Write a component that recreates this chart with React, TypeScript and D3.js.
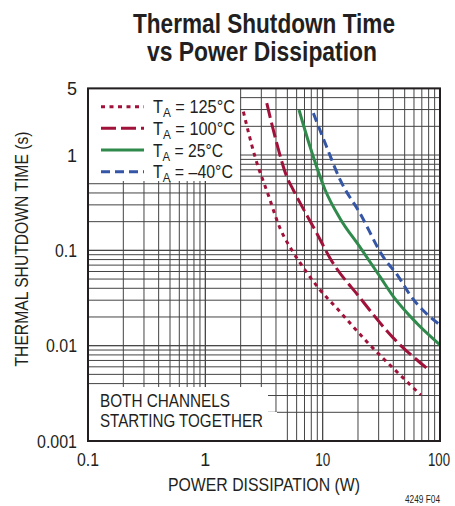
import React from "react";
import * as d3 from "d3";

const xTickValues = [0.1, 1, 10, 100];
const xTickLabels = ["0.1", "1", "10", "100"];
const yTickValues = [0.001, 0.01, 0.1, 1, 5];
const yTickLabels = ["0.001", "0.01", "0.1", "1", "5"];

const p125 = [2.11, 2.65, 3.44, 4.33, 5.45, 7.08, 9.5, 13.2, 23.8, 45.7, 68.6];
const t125 = [2.85, 0.96, 0.381, 0.171, 0.101, 0.0622, 0.0384, 0.0247, 0.011, 0.00493, 0.00304];
const p100 = [3.34, 4.06, 4.94, 5.62, 8.91, 11.56, 20.8, 40.1, 77.2];
const t100 = [3.5, 1.33, 0.593, 0.43, 0.151, 0.0827, 0.0318, 0.012, 0.0058];
const p25 = [6.29, 7.81, 10.5, 14.1, 20.8, 30.8, 40.1, 63.4, 100];
const t25 = [2.97, 1.22, 0.43, 0.215, 0.108, 0.053, 0.0327, 0.0172, 0.0102];
const pM40 = [8.33, 10.8, 14.1, 20.8, 32.9, 44.2, 55.6, 100];
const tM40 = [2.75, 1.22, 0.548, 0.245, 0.085, 0.053, 0.034, 0.0165];

const seriesNames = ["125°C", "100°C", "25°C", "–40°C"];

const FONT = "'Liberation Sans', Arial, sans-serif";
const INK = "#231f20";

export default function App() {
  const W = 455, H = 506;
  const L = 88, R = 440, T = 88.4, B = 441;
  const x = d3.scaleLog().domain([0.1, 100]).range([L, R]);
  const y = d3.scaleLog().domain([0.001, 5]).range([B, T]);

  const xGrid: number[] = [];
  for (let e = -1; e < 2; e++) for (let m = 1; m <= 10; m++) xGrid.push(m * Math.pow(10, e));
  const yGrid: number[] = [];
  for (let e = -3; e < 0; e++) for (let m = 1; m <= 10; m++) yGrid.push(m * Math.pow(10, e));
  [2, 3, 4, 5].forEach((v) => yGrid.push(v));

  const series = [
    { p: p125, t: t125, color: "#a0123a", dash: "4,4.5" },
    { p: p100, t: t100, color: "#a0123a", dash: "15,5" },
    { p: p25, t: t25, color: "#2f8a4c", dash: "" },
    { p: pM40, t: tM40, color: "#3556a6", dash: "9,5" },
  ];

  const line = d3
    .line<[number, number]>()
    .x((d) => x(d[0]))
    .y((d) => y(d[1]))
    .curve(d3.curveMonotoneX);

  const legendRows = [106.7, 128.3, 150, 171.7];
  const legendWidths = [82, 82, 70, 80];
  const yTickWidths = [40, 31, 22, 0, 0];
  const xTickWidths = [22, 0, 15, 22];

  return (
    <svg width={W} height={H} style={{ display: "block", position: "absolute", left: 0, top: 0 }}>
      <rect width={W} height={H} fill="#fff" />
      <text x={264} y={33} textAnchor="middle" fontFamily={FONT} fontWeight="bold" fontSize={27} fill={INK}
        textLength={262} lengthAdjust="spacingAndGlyphs">
        Thermal Shutdown Time
      </text>
      <text x={262} y={61} textAnchor="middle" fontFamily={FONT} fontWeight="bold" fontSize={27} fill={INK}
        textLength={230} lengthAdjust="spacingAndGlyphs">
        vs Power Dissipation
      </text>

      <g stroke="#444" strokeWidth={1}>
        {xGrid.map((v, i) => (
          <line key={"xg" + i} x1={x(v)} x2={x(v)} y1={T} y2={B} />
        ))}
        {yGrid.map((v, i) => (
          <line key={"yg" + i} x1={L} x2={R} y1={y(v)} y2={y(v)} />
        ))}
      </g>

      <rect x={L} y={T} width={240 - L} height={181 - T} fill="#fff" />
      <rect x={L} y={387} width={268 - L} height={26} fill="#fff" />
      <rect x={L} y={412} width={277 - L} height={B - 412} fill="#fff" />

      {series.map((s, i) => (
        <path
          key={"s" + i}
          d={line(s.p.map((p, j) => [p, s.t[j]] as [number, number])) || ""}
          fill="none"
          stroke={s.color}
          strokeWidth={3}
          strokeDasharray={s.dash}
        />
      ))}

      <rect x={L} y={T} width={R - L} height={B - T} fill="none" stroke={INK} strokeWidth={2} />

      {series.map((s, i) => (
        <g key={"lg" + i}>
          <line x1={101} x2={144} y1={legendRows[i]} y2={legendRows[i]} stroke={s.color} strokeWidth={3} strokeDasharray={s.dash} />
          <text x={153} y={legendRows[i] + 6.5} fontFamily={FONT} fontSize={18} fill={INK}
            textLength={legendWidths[i]} lengthAdjust="spacingAndGlyphs">
            T<tspan fontSize={13} dy={4}>A</tspan>
            <tspan dy={-4}>{" = " + seriesNames[i]}</tspan>
          </text>
        </g>
      ))}

      <text x={100} y={407} fontFamily={FONT} fontSize={18} fill={INK} textLength={130} lengthAdjust="spacingAndGlyphs">
        BOTH CHANNELS
      </text>
      <text x={100} y={427} fontFamily={FONT} fontSize={18} fill={INK} textLength={163} lengthAdjust="spacingAndGlyphs">
        STARTING TOGETHER
      </text>

      {yTickValues.map((v, i) => (
        <text key={"yt" + i} x={77} y={y(v) + 6.5} textAnchor="end" fontFamily={FONT} fontSize={18} fill={INK}
          {...(yTickWidths[i] ? { textLength: yTickWidths[i], lengthAdjust: "spacingAndGlyphs" } : {})}>
          {yTickLabels[i]}
        </text>
      ))}
      {xTickValues.map((v, i) => (
        <text key={"xt" + i} x={i === 3 ? x(v) - 1 : x(v)} y={466} textAnchor="middle" fontFamily={FONT} fontSize={18} fill={INK}
          {...(xTickWidths[i] ? { textLength: xTickWidths[i], lengthAdjust: "spacingAndGlyphs" } : {})}>
          {xTickLabels[i]}
        </text>
      ))}

      <text x={264} y={491} textAnchor="middle" fontFamily={FONT} fontSize={18} fill={INK}
        textLength={192} lengthAdjust="spacingAndGlyphs">
        POWER DISSIPATION (W)
      </text>
      <text
        transform={`translate(28,249) rotate(-90)`}
        textAnchor="middle"
        fontFamily={FONT}
        fontSize={18}
        fill={INK}
        textLength={235}
        lengthAdjust="spacingAndGlyphs"
      >
        THERMAL SHUTDOWN TIME (s)
      </text>
      <text x={440} y={503} textAnchor="end" fontFamily={FONT} fontSize={10} fill={INK}
        textLength={35} lengthAdjust="spacingAndGlyphs">4249 F04</text>
    </svg>
  );
}
